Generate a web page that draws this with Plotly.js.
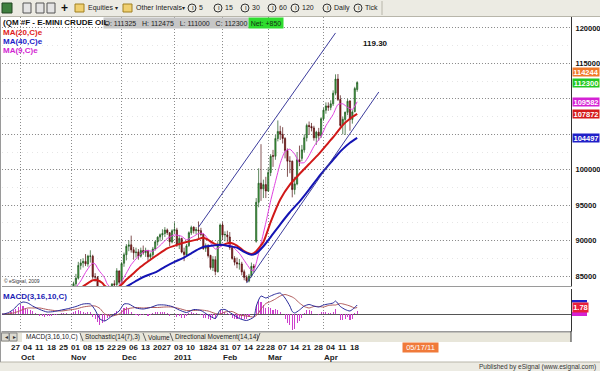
<!DOCTYPE html>
<html><head><meta charset="utf-8">
<script src="https://cdn.plot.ly/plotly-3.0.1.min.js"></script>
<style>html,body{margin:0;padding:0;background:#fff;}#chart{width:600px;height:371px;}</style>
</head><body><div id="chart"></div>
<script>
// ---------- DATA ----------
const dates = [
'2010-09-20','2010-09-21','2010-09-22','2010-09-23','2010-09-24',
'2010-09-27','2010-09-28','2010-09-29','2010-09-30','2010-10-01',
'2010-10-04','2010-10-05','2010-10-06','2010-10-07','2010-10-08',
'2010-10-11','2010-10-12','2010-10-13','2010-10-14','2010-10-15',
'2010-10-18','2010-10-19','2010-10-20','2010-10-21','2010-10-22',
'2010-10-25','2010-10-26','2010-10-27','2010-10-28','2010-10-29',
'2010-11-01','2010-11-02','2010-11-03','2010-11-04','2010-11-05',
'2010-11-08','2010-11-09','2010-11-10','2010-11-11','2010-11-12',
'2010-11-15','2010-11-16','2010-11-17','2010-11-18','2010-11-19',
'2010-11-22','2010-11-23','2010-11-24','2010-11-26',
'2010-11-29','2010-11-30','2010-12-01','2010-12-02','2010-12-03',
'2010-12-06','2010-12-07','2010-12-08','2010-12-09','2010-12-10',
'2010-12-13','2010-12-14','2010-12-15','2010-12-16','2010-12-17',
'2010-12-20','2010-12-21','2010-12-22','2010-12-23',
'2010-12-27','2010-12-28','2010-12-29','2010-12-30','2010-12-31',
'2011-01-03','2011-01-04','2011-01-05','2011-01-06','2011-01-07',
'2011-01-10','2011-01-11','2011-01-12','2011-01-13','2011-01-14',
'2011-01-18','2011-01-19','2011-01-20','2011-01-21',
'2011-01-24','2011-01-25','2011-01-26','2011-01-27','2011-01-28',
'2011-01-31','2011-02-01','2011-02-02','2011-02-03','2011-02-04',
'2011-02-07','2011-02-08','2011-02-09','2011-02-10','2011-02-11',
'2011-02-14','2011-02-15','2011-02-16','2011-02-17','2011-02-18',
'2011-02-22','2011-02-23','2011-02-24','2011-02-25',
'2011-02-28','2011-03-01','2011-03-02','2011-03-03','2011-03-04',
'2011-03-07','2011-03-08','2011-03-09','2011-03-10','2011-03-11',
'2011-03-14','2011-03-15','2011-03-16','2011-03-17','2011-03-18',
'2011-03-21','2011-03-22','2011-03-23','2011-03-24','2011-03-25',
'2011-03-28','2011-03-29','2011-03-30','2011-03-31','2011-04-01',
'2011-04-04','2011-04-05','2011-04-06','2011-04-07','2011-04-08',
'2011-04-11','2011-04-12','2011-04-13','2011-04-14','2011-04-15',
'2011-04-18','2011-04-19','2011-04-20','2011-04-21',
'2011-04-25','2011-04-26','2011-04-27','2011-04-28','2011-04-29',
'2011-05-02','2011-05-03','2011-05-04','2011-05-05'];

const candleDates = dates.slice(30, 150); // 2010-11-01 .. 2011-04-21

const open = [
81500,82950,83900,84700,86500, 86850,87060,86700,87800,87800,
84900,84800,82300,80500,81800, 81500,81700,81300,83900,
83800,85700,84200,86800,88000, 89200,89400,88700,88300,88400,
87800,88600,88300,88600,87700, 88000,88800,89800,90500,
90800,91000,91500,91100,89800, 91400,91500,89400,90300,88400,
88000,89300,91100,91900,91400, 91500,91400,90900,88900,
89100,87900,86200,87300,85600, 89300,92200,90800,90800,90500,
89000,87500,86900,86700,86700, 85600,84800,84300,85000,86400,
89900,95400,98100,97300, 97900,97000,99600,102000,101900,
104400,105400,105000,104400,102700, 101200,101200,97200,98000,101400,
101600,102800,104500,106250,106100, 105900,104500,105300,104800,107200,
108400,109000,108800,109300,110800, 112800,109900,106300,107100,108100,
109700,107100,108200,111325];
const high = [
83650,84200,85300,87000,87400, 87500,88100,88000,88630,88000,
85400,85000,82900,82000,82200, 82300,82200,84000,84400,
86100,85800,87000,88300,89500, 90000,90700,89100,89000,88800,
89000,89300,89000,88700,88300, 89100,90000,90600,91000,
91600,91900,91700,91200,91600, 92580,91800,90800,90400,89000,
89500,91300,92100,92000,91900, 92700,91800,91000,89600,
89500,88000,87800,87800,89900, 92400,92600,91300,91400,91200,
89300,87800,87600,87400,87000, 85900,85100,85300,86900,86700,
96000,100200,103600,98600, 99000,100300,102200,102800,104900,
106950,106200,106000,104600,103000, 101900,101300,99000,102500,103400,
103500,105000,106500,106800,106600, 106200,105500,105900,107400,108700,
109500,109500,109800,111200,113460, 113500,110500,107500,108200,110000,
109800,108400,111700,112475];
const low = [
81200,82600,83300,84500,85900, 86200,86400,86300,86900,84600,
84200,82100,80300,80300,80700, 80800,80400,81200,83200,
83200,83800,84000,86300,87200, 88500,88300,87300,87600,87300,
87600,88000,87700,87000,87200, 87600,88600,89300,89900,
90100,90500,90800,89200,89600, 91000,89100,88800,88200,87100,
87800,89100,90800,91000,90900, 90300,90600,88700,88400,
87600,85900,85700,85100,85500, 89200,90100,89900,89800,88700,
87300,86500,86100,85900,85100, 84400,84100,84100,84800,85500,
89700,94700,95600,96000, 96000,96900,99100,100400,101400,
104000,104200,103700,101600,99000, 99500,96100,96500,97800,100500,
101200,102400,104000,104900,105400, 104100,103500,104100,104500,106900,
107900,108300,108400,109000,110500, 109700,105800,105000,104900,107700,
105500,106500,108100,111000];
const close = [
82950,83900,84690,86490,86850, 87060,86720,87810,87810,84880,
84860,82340,80440,81850,81510, 81740,81250,83860,83760,
85730,84110,86750,88000,89190, 89380,88690,88280,88370,87790,
88610,88280,88620,87700,88020, 88810,89820,90480,90830,
91000,91490,91120,89840,91380, 91550,89380,90300,88380,88030,
89250,91110,91860,91400,91540, 91380,90860,88860,89110,
87870,86190,87330,85640,89340, 92190,90770,90860,90540,89030,
87480,86940,86710,86730,85580, 84810,84320,84990,86360,86200,
95400,98100,97300,97900, 97000,99600,101900,101900,104400,
105400,105000,104400,102700,101200, 101200,97200,98000,101400,101100,
102800,104500,106250,106100,105900, 104500,105300,104800,107200,108400,
109000,108800,109300,110800,112790, 109920,106250,107110,108110,109660,
107120,108150,111450,112300];

// Moving averages
const ma20Dates = ['2010-11-05','2010-11-10','2010-11-12','2010-11-16','2010-11-18','2010-11-19','2010-11-23','2010-11-29','2010-12-01','2010-12-03','2010-12-08','2010-12-13','2010-12-17','2010-12-22','2010-12-29','2011-01-04','2011-01-10','2011-01-14','2011-01-20','2011-01-24','2011-01-27','2011-02-01','2011-02-04','2011-02-09','2011-02-14','2011-02-17','2011-02-22','2011-02-25','2011-03-02','2011-03-08','2011-03-14','2011-03-18','2011-03-24','2011-03-30','2011-04-05','2011-04-08','2011-04-13','2011-04-18','2011-04-21'];
const ma20 = [83300,84000,84400,84400,84000,83600,83300,83300,83800,84500,85400,86300,87300,88000,88900,89400,89800,90100,90400,90100,89500,89400,89700,89300,88500,88100,88500,89800,92600,95800,97900,99400,100800,102200,103800,105000,106300,107200,107872];

const ma40Dates = ['2010-12-02','2010-12-07','2010-12-10','2010-12-15','2010-12-21','2010-12-28','2011-01-03','2011-01-07','2011-01-12','2011-01-18','2011-01-21','2011-01-26','2011-01-31','2011-02-04','2011-02-09','2011-02-14','2011-02-17','2011-02-22','2011-02-25','2011-03-02','2011-03-08','2011-03-14','2011-03-18','2011-03-24','2011-03-30','2011-04-05','2011-04-08','2011-04-13','2011-04-18','2011-04-21'];
const ma40 = [83300,83900,84500,85000,85500,86300,87000,87600,88200,88800,89200,89300,89400,89200,89000,88400,88000,88200,89200,90500,92300,94000,95500,97200,99000,100600,101800,102900,103800,104497];

const ma9Dates = ['2010-11-01','2010-11-03','2010-11-05','2010-11-09','2010-11-11','2010-11-12','2010-11-15','2010-11-16','2010-11-17','2010-11-18','2010-11-19','2010-11-22','2010-11-24','2010-11-29','2010-11-30','2010-12-01','2010-12-03','2010-12-07','2010-12-10','2010-12-15','2010-12-20','2010-12-23','2010-12-29','2011-01-03','2011-01-06','2011-01-10','2011-01-13','2011-01-18','2011-01-20','2011-01-24','2011-01-27','2011-02-01','2011-02-03','2011-02-07','2011-02-10','2011-02-15','2011-02-17','2011-02-18','2011-02-22','2011-02-24','2011-02-28','2011-03-02','2011-03-04','2011-03-08','2011-03-10','2011-03-14','2011-03-16','2011-03-18','2011-03-22','2011-03-24','2011-03-28','2011-03-31','2011-04-04','2011-04-07','2011-04-11','2011-04-13','2011-04-15','2011-04-19','2011-04-21'];
const ma9 = [82800,83400,84300,85500,86500,86800,86700,86100,85600,85200,84700,83900,83200,83200,83600,84200,85400,86600,87800,88600,88500,89300,90300,90800,90600,90100,90600,91000,91000,90200,88800,89300,89600,89200,88200,86700,85800,85800,86800,89600,92500,95600,98300,100900,102600,102900,102200,101000,101000,102000,103300,104700,106200,107800,109200,109300,108800,108500,109582];

// Channel trend lines (drawn objects on the chart)
const upperChannelDates = ['2011-01-18','2011-04-08'];
const upperChannel = [91900, 119300];
const lowerChannelDates = ['2011-02-15','2011-05-05'];
const lowerChannel = [84000, 110970];
const channelLabel = '119.30';

// MACD(3,16,10)
const macdDates = ['2010-09-20','2010-09-22','2010-09-24','2010-09-28','2010-09-30','2010-10-04','2010-10-06','2010-10-08','2010-10-13','2010-10-18','2010-10-21','2010-10-26','2010-10-29','2010-11-03','2010-11-08','2010-11-11','2010-11-15','2010-11-17','2010-11-19','2010-11-24','2010-11-30','2010-12-02','2010-12-06','2010-12-09','2010-12-14','2010-12-17','2010-12-22','2010-12-28','2010-12-31','2011-01-05','2011-01-10','2011-01-13','2011-01-19','2011-01-24','2011-01-27','2011-01-31','2011-02-02','2011-02-07','2011-02-10','2011-02-15','2011-02-18','2011-02-22','2011-02-23','2011-02-24','2011-02-28','2011-03-02','2011-03-04','2011-03-08','2011-03-10','2011-03-14','2011-03-15','2011-03-16','2011-03-18','2011-03-22','2011-03-24','2011-03-28','2011-03-30','2011-04-01','2011-04-05','2011-04-07','2011-04-08','2011-04-12','2011-04-14','2011-04-18','2011-04-20','2011-04-21'];
const macdLine = [0.0,0.0,0.3,0.9,1.9,2.4,2.2,1.6,0.9,0.4,0.5,0.8,1.1,1.5,2.0,2.0,0.8,-1.0,-1.4,-0.4,0.6,2.0,2.0,1.2,1.0,1.3,1.8,1.8,1.5,0.8,0.3,0.9,0.7,-0.2,-0.9,0.8,0.9,0.0,-0.9,-1.3,-0.6,1.5,2.8,3.6,3.2,3.6,4.0,4.2,3.2,1.6,0.5,0.2,0.8,1.6,1.9,1.6,1.4,1.8,2.0,2.2,2.6,1.5,0.9,0.6,1.3,1.8];
const macdSignal = [0.0,0.0,0.1,0.2,0.5,0.9,1.2,1.2,1.2,0.9,0.7,0.6,0.8,1.0,1.4,1.6,1.6,1.1,0.0,-0.4,0.0,0.8,1.1,1.3,1.2,1.3,1.3,1.4,1.4,1.1,0.7,0.7,0.8,0.6,0.1,0.0,0.4,0.5,-0.2,-0.4,-0.6,-0.3,0.2,1.0,2.1,2.5,3.0,3.6,3.9,3.6,3.4,3.1,2.2,1.5,1.2,1.5,1.5,1.4,1.7,1.8,1.8,2.1,1.9,1.6,1.2,1.3];
const macdHist = [
0.0,0.1,0.1,0.2,0.3, 0.5,0.8,1.1,1.5,1.8, 1.7,1.3,1.1,0.8,0.6, 0.3,0.0,-0.3,-0.4,-0.5,
-0.4,-0.3,-0.4,-0.2,-0.1, 0.1,0.2,0.3,0.2,0.1, 0.3,0.5,0.6,0.8,0.7, 0.5,0.3,0.5,0.4,-0.5,
-0.9,-1.5,-2.1,-1.8,-1.3, -0.8,-0.6,0.1,0.3,0.6, 0.1,0.9,1.3,1.4,1.0, 0.4,0.0,-0.1,-0.3,-0.1,
-0.2,0.0,-0.3,-0.1,0.2, 0.4,0.5,0.5,0.4,0.4, 0.2,-0.3,0.1,0.1,-0.5, -0.3,-0.7,-0.8,-0.3,0.3,
0.5,0.3,0.2,0.0,-0.2, -0.7,-0.7,-0.9,-1.2,-0.8, -1.0,0.1,0.9,0.6,0.5, 0.3,-0.2,-0.7,-0.9,-0.9,
-0.7,-0.9,-1.0,-1.0,-0.6, 0.0,0.1,1.8,2.6,2.4, 1.9,1.2,1.2,1.3,0.9, 1.1,0.9,0.5,0.0,-0.9,
-1.8,-2.2,-3.2,-3.0,-1.8, -1.3,-0.7,0.2,0.8,0.8, 0.6,0.0,0.1,-0.2,0.4, 0.5,0.4,0.2,0.2,0.5,
1.0,0.0,-1.1,-1.2,-1.0, -0.6,-1.1,-0.9,0.2,0.6];
const macdLastText = '1.78';

// Axis labels (110000 and 105000 are hidden behind value boxes in the original)
const priceTicks = [85000,90000,95000,100000,105000,110000,115000,120000];
const priceTickText = ['85000','90000','95000','100000','','','115000','120000'];
const weekStarts = ['2010-09-27','2010-10-04','2010-10-11','2010-10-18','2010-10-25','2010-11-01','2010-11-08','2010-11-15','2010-11-22','2010-11-29','2010-12-06','2010-12-13','2010-12-20','2010-12-27','2011-01-03','2011-01-10','2011-01-18','2011-01-24','2011-01-31','2011-02-07','2011-02-14','2011-02-22','2011-02-28','2011-03-07','2011-03-14','2011-03-21','2011-03-28','2011-04-04','2011-04-11','2011-04-18'];
const weekLabels = ['27','04','11','18','25','01','08','15','22','29','06','13','20','27','03','10','18','24','31','07','14','22','28','07','14','21','28','04','11','18'];
const monthStarts = ['2010-10-01','2010-11-01','2010-12-01','2011-01-03','2011-02-01','2011-03-01','2011-04-01'];
const monthLabels = ['Oct','Nov','Dec','2011','Feb','Mar','Apr'];

const symbolTitle = '(QM #F - E-MINI CRUDE OIL';
const netChange = '+850';
const orangeLevel = 114244;
const cursorDate = '05/17/11';

// ---------- LAYOUT HELPERS ----------
const F = 'Liberation Sans, Arial, sans-serif';
const FN = 'Liberation Sans Narrow, Arial Narrow, Liberation Sans, Arial, sans-serif';
const L = 2, R = 571, T = 17, B = 331;
const PX = x => (x - L) / (R - L);
const PY = y => (B - y) / (B - T);
function txt(text, x, y, o) {
  o = o || {};
  const a = {text: text, xref:'paper', yref:'paper', x: PX(x), y: PY(y),
    xanchor: o.xanchor || 'left', yanchor: 'middle', showarrow:false, borderpad: 0,
    font: {family: o.family || F, size: o.size || 8, color: o.color || '#000'}};
  ['bgcolor','width','height','align','bordercolor','borderwidth'].forEach(k => { if (o[k] !== undefined) a[k] = o[k]; });
  if (o.borderpad !== undefined) a.borderpad = o.borderpad;
  return a;
}
function rect(x0, y0, x1, y1, fill, line, lw) {
  return {type:'rect', xref:'paper', yref:'paper', x0:PX(x0), x1:PX(x1), y0:PY(y1), y1:PY(y0),
    fillcolor: fill, line:{color: line || 'rgba(0,0,0,0)', width: lw === undefined ? (line ? 1 : 0) : lw}, layer:'above'};
}
function seg(x0, y0, x1, y1, color, w) {
  return {type:'line', xref:'paper', yref:'paper', x0:PX(x0), x1:PX(x1), y0:PY(y0), y1:PY(y1),
    line:{color: color, width: w || 1}, layer:'above'};
}

// ---------- TRACES ----------
const traces = [
  {type:'candlestick', x: candleDates, open: open, high: high, low: low, close: close,
   xaxis:'x', yaxis:'y', whiskerwidth: 0,
   increasing:{line:{color:'#1d561d', width:0.7}, fillcolor:'#45a845'},
   decreasing:{line:{color:'#4e0c0c', width:0.7}, fillcolor:'#9a1c1c'},
   hoverinfo:'skip', showlegend:false},
  {type:'scatter', mode:'lines', x: ma9Dates, y: ma9, xaxis:'x', yaxis:'y',
   line:{color:'#e040e0', width:1, shape:'spline', smoothing:0.5}, hoverinfo:'skip'},
  {type:'scatter', mode:'lines', x: ma20Dates, y: ma20, xaxis:'x', yaxis:'y',
   line:{color:'#d01818', width:2, shape:'spline', smoothing:0.5}, hoverinfo:'skip'},
  {type:'scatter', mode:'lines', x: ma40Dates, y: ma40, xaxis:'x', yaxis:'y',
   line:{color:'#1414b4', width:2, shape:'spline', smoothing:0.5}, hoverinfo:'skip'},
  {type:'scatter', mode:'lines', x: upperChannelDates, y: upperChannel, xaxis:'x', yaxis:'y',
   line:{color:'#3c3c9c', width:1}, hoverinfo:'skip'},
  {type:'scatter', mode:'lines', x: lowerChannelDates, y: lowerChannel, xaxis:'x', yaxis:'y',
   line:{color:'#3c3c9c', width:1}, hoverinfo:'skip'},
  {type:'bar', x: dates.slice(0, macdHist.length), y: macdHist, xaxis:'x2', yaxis:'y2',
   marker:{color:'#cc40cc', line:{width:0}}, width:0.45, hoverinfo:'skip'},
  {type:'scatter', mode:'lines', x: macdDates, y: macdSignal, xaxis:'x2', yaxis:'y2',
   line:{color:'#b05a5a', width:1, shape:'spline', smoothing:0.6}, hoverinfo:'skip'},
  {type:'scatter', mode:'lines', x: macdDates, y: macdLine, xaxis:'x2', yaxis:'y2',
   line:{color:'#2a2a9a', width:1, shape:'spline', smoothing:0.6}, hoverinfo:'skip'}
];

// ---------- ANNOTATIONS ----------
const last = close.length - 1;
const ann = [];
ann.push(txt('O: ' + open[last] + '   H: ' + high[last] + '   L: ' + low[last] + '   C: ' + close[last],
  103, 22.5, {size:7, color:'#222', bgcolor:'#c6c6c6', width:144, height:10, align:'center'}));
ann.push(txt('Net: ' + netChange, 248, 22.5, {size:7, color:'#113311', bgcolor:'#2fdc2f', width:34, height:10, align:'center'}));
ann.push(txt('<b>' + symbolTitle + '</b>', 2, 22.5, {size:8, color:'#111', family:FN}));
ann.push(txt('<b>MA(20,C)e</b>', 2, 32.5, {size:8, color:'#e01c1c'}));
ann.push(txt('<b>MA(40,C)e</b>', 2, 41.5, {size:8, color:'#1c1cc8'}));
ann.push(txt('<b>MA(9,C)e</b>', 2, 50.5, {size:8, color:'#d21ed2'}));
ann.push(txt('<b>' + channelLabel + '</b>', 362, 44, {size:8, color:'#111'}));
ann.push(txt('© eSignal, 2009', 3, 281, {size:5, color:'#333'}));
ann.push(txt('<b>MACD(3,16,10,C)</b>', 2, 296, {size:8, color:'#1c1cb4'}));

// value boxes on the price scale
const valueBoxes = [
  {v: orangeLevel, c:'#f07a2a', s:-3},
  {v: close[last], c:'#22c822', s:0},
  {v: ma9[ma9.length-1], c:'#d422d4', s:0},
  {v: ma20[ma20.length-1], c:'#d41c1c', s:0},
  {v: ma40[ma40.length-1], c:'#2020c8', s:0}
];
valueBoxes.forEach(b => ann.push({text:'<b>' + b.v + '</b>', xref:'paper', yref:'y', x: PX(572), y: b.v,
  yshift: b.s, xanchor:'left', yanchor:'middle', showarrow:false, bgcolor:b.c, width:26, height:8, borderpad:0,
  font:{family:F, size:7.5, color:'#ffffff'}}));
ann.push(txt('<b>' + macdLastText + '</b>', 572, 307.5, {size:7.5, color:'#ffffff', bgcolor:'#e8203c', width:15, height:9, align:'center'}));

// x labels
weekStarts.forEach((d, i) => ann.push({text:'<b>' + weekLabels[i] + '</b>', xref:'x2', yref:'paper', x: d, y: PY(347),
  xanchor:'left', yanchor:'middle', xshift:-1, showarrow:false, borderpad:0, font:{family:F, size:8, color:'#222'}}));
monthStarts.forEach((d, i) => ann.push({text:'<b>' + monthLabels[i] + '</b>', xref:'x2', yref:'paper', x: d, y: PY(357.5),
  xanchor:'left', yanchor:'middle', xshift:-1, showarrow:false, borderpad:0, font:{family:F, size:8, color:'#222'}}));
ann.push(txt(cursorDate, 402, 347.5, {size:7.5, color:'#ffffff', bgcolor:'#f07a3a', width:35, height:9, align:'center'}));
ann.push(txt('Published by eSignal (www.esignal.com)', 597, 366.5, {size:6.5, color:'#333', xanchor:'right'}));

// tab bar texts
ann.push(txt('MACD(3,16,10,C)', 25, 337, {size:6.5, color:'#222'}));
ann.push(txt('Stochastic(14(7),3)', 84, 337, {size:6.5, color:'#222'}));
ann.push(txt('Volume', 147, 337, {size:6.5, color:'#222'}));
ann.push(txt('Directional Movement(14,14)', 174, 337, {size:6.5, color:'#222'}));
ann.push(txt('◄', 3, 337, {size:5, color:'#333'}));
ann.push(txt('►', 11, 337, {size:5, color:'#333'}));

// toolbar texts
ann.push(txt('<b>+</b>', 60, 8, {size:12, color:'#111'}));
ann.push(txt('Equities', 87, 8, {size:7, color:'#222'}));
ann.push(txt('▾', 114, 8.5, {size:6, color:'#222'}));
ann.push(txt('Other Intervals', 135, 8, {size:7, color:'#222'}));
ann.push(txt('▾', 181, 8.5, {size:6, color:'#222'}));
const tb = [[192,'5'],[218,'15'],[245,'30'],[272,'60'],[295,'120'],[327,'Daily'],[358,'Tick']];
tb.forEach(t => { ann.push(txt('I', t[0] - 1.2, 8, {size:6, color:'#222'})); ann.push(txt(t[1], t[0] + 6, 8, {size:7, color:'#222'})); });

// ---------- SHAPES ----------
const shapes = [];
shapes.push(rect(0, 0, 600, 16, '#ecebe3', null));
shapes.push(seg(0, 16.5, 600, 16.5, '#b8b6aa', 1));
shapes.push(seg(382, 1, 382, 15, '#b8b6aa', 1));
shapes.push(rect(2, 3, 12, 13, '#3f7f3f', '#224422', 1));
shapes.push(rect(23, 3, 31, 13, '#e4e4e4', '#555', 1));
shapes.push(rect(36, 3, 44, 13, '#e4e4e4', '#555', 1));
shapes.push(rect(47, 3, 55, 13, '#e4e4e4', '#555', 1));
shapes.push(rect(75, 4, 84, 12, '#f0d070', '#a08020', 1));
shapes.push(rect(123, 4, 132, 12, '#f0d070', '#a08020', 1));
tb.forEach(t => shapes.push({type:'circle', xref:'paper', yref:'paper', x0:PX(t[0]-4), x1:PX(t[0]+4), y0:PY(12), y1:PY(4),
  line:{color:'#333', width:1}, fillcolor:'rgba(0,0,0,0)', layer:'above'}));
// tab bar
shapes.push(rect(0, 332, 571, 342, '#e8e6da', null));
shapes.push(seg(0, 332, 571, 332, '#9a9a9a', 1));
shapes.push(rect(1.5, 333, 9, 341, '#dcdad0', '#888', 1));
shapes.push(rect(9.5, 333, 17, 341, '#dcdad0', '#888', 1));
shapes.push(rect(22, 333, 80, 342, '#ffffff', null));
shapes.push(seg(80, 333, 83, 341, '#666', 1));
shapes.push(seg(143, 333, 146, 341, '#666', 1));
shapes.push(seg(170, 333, 173, 341, '#666', 1));
shapes.push(seg(257, 341, 260, 333, '#666', 1));
shapes.push(seg(571, 331, 571, 342, '#333', 1));
// MACD value markers
shapes.push(rect(572, 300, 587, 302.5, '#2020c8', null));
shapes.push(rect(572, 312, 587, 316, '#d422d4', null));
// status bar & left frame
shapes.push(rect(0, 362, 600, 371, '#ecebe3', null));
shapes.push(seg(0, 362, 600, 362, '#b8b6aa', 1));
shapes.push(seg(0.5, 17, 0.5, 362, '#9a9a9a', 1));

// ---------- LAYOUT ----------
const gridDash = '1px,2px';
const layout = {
  width: 600, height: 371,
  margin: {l: L, r: 600 - R, t: T, b: 371 - B, pad: 0},
  paper_bgcolor:'#ffffff', plot_bgcolor:'#ffffff',
  showlegend:false, hovermode:false, dragmode:false, bargap:0,
  font:{family:F, size:8, color:'#000'},
  xaxis: {type:'category', categoryorder:'array', categoryarray: dates,
    range:[1.256, 237.95], domain:[0,1], anchor:'y',
    tickmode:'array', tickvals: monthStarts, showticklabels:false, ticks:'',
    showgrid:true, gridcolor:'#8c8c8c', griddash:gridDash, gridwidth:1,
    showline:true, linecolor:'#9a9a9a', linewidth:1, zeroline:false,
    rangeslider:{visible:false}, fixedrange:true},
  yaxis: {domain:[PY(286), 1], anchor:'x', side:'right', range:[83590, 121550],
    tickmode:'array', tickvals: priceTicks, ticktext: priceTickText.map(v => v ? '<b>' + v + '</b>' : ''),
    tickfont:{family:F, size:7.5, color:'#111'}, ticks:'', ticklabelstandoff:2,
    showgrid:true, gridcolor:'#8c8c8c', griddash:gridDash, gridwidth:1,
    minor:{tickmode:'linear', tick0:0, dtick:2500, showgrid:true, gridcolor:'#e6e6e6', griddash:'1px,4px', ticks:''},
    showline:true, linecolor:'#333', linewidth:1, zeroline:false, fixedrange:true},
  xaxis2: {type:'category', categoryorder:'array', categoryarray: dates,
    matches:'x', domain:[0,1], anchor:'y2',
    tickmode:'array', tickvals: monthStarts, showticklabels:false, ticks:'',
    showgrid:true, gridcolor:'#8c8c8c', griddash:gridDash, gridwidth:1,
    showline:true, linecolor:'#9a9a9a', linewidth:1, zeroline:false, fixedrange:true},
  yaxis2: {domain:[0, PY(289)], anchor:'x2', side:'right', range:[-3.4, 5.0],
    showticklabels:false, ticks:'', showgrid:false,
    zeroline:true, zerolinecolor:'#555', zerolinewidth:1,
    showline:true, linecolor:'#333', linewidth:1, fixedrange:true},
  annotations: ann,
  shapes: shapes
};

Plotly.newPlot('chart', traces, layout, {staticPlot:true, displayModeBar:false});
</script>
</body></html>
